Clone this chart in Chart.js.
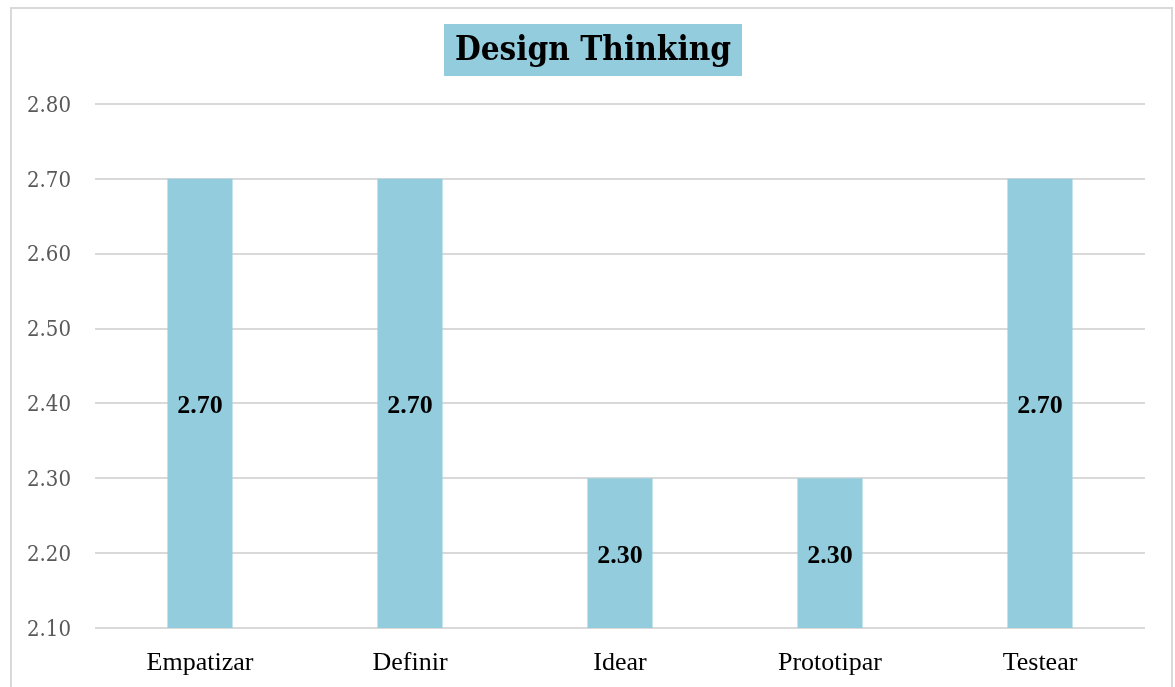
<!DOCTYPE html>
<html>
<head>
<meta charset="utf-8">
<script src="https://cdn.jsdelivr.net/npm/chart.js@4.4.1/dist/chart.umd.min.js"></script>
<style>
  html, body { margin: 0; padding: 0; background: #fff; }
  #wrap { width: 1175px; height: 687px; position: relative; }
</style>
</head>
<body>
<div id="wrap"><canvas id="barchart"></canvas></div>
<script>
// datos del gráfico
const categories = ['Empatizar', 'Definir', 'Idear', 'Prototipar', 'Testear'];
const values = [2.70, 2.70, 2.30, 2.30, 2.70];
const yTicks = [2.10, 2.20, 2.30, 2.40, 2.50, 2.60, 2.70, 2.80];
const chartTitle = 'Design Thinking';

const barColor = '#93cddd';
const gridColor = '#d9d9d9';

// marco gris alrededor del gráfico
const framePlugin = {
    id: 'frame',
    beforeDraw(chart) {
        const c = chart.ctx;
        c.save();
        c.strokeStyle = gridColor;
        c.lineWidth = 2;
        c.strokeRect(11, 8, 1161, 700);
        c.restore();
    }
};

// título con fondo azul
const titlePlugin = {
    id: 'boxTitle',
    afterDraw(chart) {
        const c = chart.ctx;
        c.save();
        c.font = 'bold 33px "DejaVu Serif Condensed", "DejaVu Serif", serif';
        const w = c.measureText(chartTitle).width;
        const cx = 593;
        const boxW = Math.max(w + 18, 298);
        c.fillStyle = barColor;
        c.fillRect(cx - boxW / 2, 24, boxW, 52);
        c.fillStyle = '#000';
        c.textAlign = 'center';
        c.textBaseline = 'middle';
        c.fillText(chartTitle, cx, 51);
        c.restore();
    }
};

// etiquetas de valor dentro de cada barra
const labelPlugin = {
    id: 'barLabels',
    afterDraw(chart) {
        const c = chart.ctx;
        const yScale = chart.scales.y;
        const xScale = chart.scales.x;
        c.save();
        c.font = 'bold 26px "Liberation Serif", "Times New Roman", serif';
        c.fillStyle = '#000';
        c.textAlign = 'center';
        c.textBaseline = 'middle';
        values.forEach((v, i) => {
            const x = xScale.getPixelForValue(i);
            const top = yScale.getPixelForValue(v);
            const base = yScale.getPixelForValue(yScale.min);
            c.fillText(v.toFixed(2), x, (top + base) / 2 + 3);
        });
        c.restore();
    }
};

const ctx = document.getElementById('barchart').getContext('2d');
new Chart(ctx, {
    type: 'bar',
    data: {
        labels: categories,
        datasets: [{
            data: values,
            backgroundColor: barColor,
            borderWidth: 0,
            barPercentage: 0.31,
            categoryPercentage: 1
        }]
    },
    options: {
        responsive: true,
        maintainAspectRatio: false,
        animation: false,
        layout: { padding: { top: 104, right: 30, bottom: 0, left: 0 } },
        plugins: {
            legend: { display: false },
            title: { display: false },
            tooltip: { enabled: false }
        },
        scales: {
            x: {
                grid: { display: false },
                border: { display: false },
                ticks: {
                    color: '#000',
                    padding: 12,
                    font: { family: '"Liberation Serif", "Times New Roman", serif', size: 26 }
                },
                afterFit(scale) { scale.height = 59; }
            },
            y: {
                min: 2.1,
                max: 2.8,
                border: { display: false },
                grid: { color: gridColor, lineWidth: 2, drawTicks: false },
                afterBuildTicks(scale) {
                    scale.ticks = yTicks.map(v => ({ value: v }));
                },
                ticks: {
                    color: '#595959',
                    padding: 24,
                    labelOffset: 2,
                    font: { family: '"DejaVu Serif Condensed", "DejaVu Serif", serif', size: 22 },
                    callback: v => Number(v).toFixed(2)
                },
                afterFit(scale) { scale.width = 95; }
            }
        }
    },
    plugins: [framePlugin, titlePlugin, labelPlugin]
});
</script>
</body>
</html>
